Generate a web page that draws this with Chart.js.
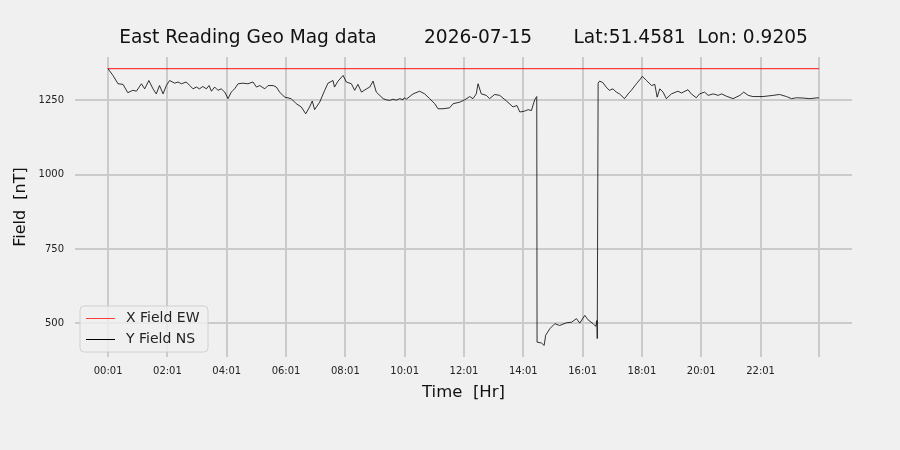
<!DOCTYPE html>
<html lang="en">
<head>
    <meta charset="UTF-8">
    <title>East Reading Geo Mag data</title>
    <script src="https://cdn.jsdelivr.net/npm/chart.js@4.4.0/dist/chart.umd.min.js"></script>
    <style>
        html, body { margin: 0; padding: 0; background: #f0f0f0; }
        #wrap { width: 900px; height: 450px; }
    </style>
</head>
<body>
<div id="wrap"><canvas id="magchart" width="900" height="450"></canvas></div>
<script>
// time of each reading, hours after midnight
const hours = [0.01, 0.18, 0.35, 0.52, 0.68, 0.85, 0.97, 1.14, 1.25, 1.39, 1.53, 1.64, 1.75, 1.87, 1.98, 2.09, 2.26, 2.37,
    2.49, 2.65, 2.77, 2.88, 2.99, 3.10, 3.21, 3.33, 3.42, 3.50, 3.61, 3.72, 3.83, 3.95, 4.06, 4.17, 4.28, 4.40, 4.56, 4.73,
    4.90, 5.02, 5.13, 5.30, 5.41, 5.58, 5.69, 5.80, 5.97, 6.19, 6.36, 6.53, 6.68,
    6.81, 6.90, 6.98, 7.15, 7.32, 7.43, 7.60, 7.65, 7.77, 7.94, 8.05, 8.22, 8.33, 8.44, 8.56, 8.73, 8.84, 8.95, 9.06, 9.29,
    9.40, 9.51, 9.62, 9.74, 9.85, 9.96, 10.00, 10.07, 10.30, 10.52, 10.69, 10.86, 11.03, 11.14, 11.31, 11.53, 11.65, 11.87,
    12.04, 12.21, 12.32, 12.43, 12.49, 12.60, 12.77, 12.88, 13.05, 13.22, 13.45, 13.67, 13.80, 13.90, 14.06, 14.18, 14.29,
    14.40, 14.47, 14.48, 14.63, 14.72, 14.77, 14.91, 15.08, 15.24, 15.47, 15.64, 15.81, 15.92, 16.09, 16.20, 16.37, 16.46,
    16.50, 16.51, 16.54, 16.59, 16.70, 16.81, 16.92, 17.04, 17.15, 17.26, 17.43, 17.55, 17.66, 17.83, 17.94, 18.03, 18.17,
    18.34, 18.45, 18.53, 18.62, 18.73, 18.84, 19.01, 19.23, 19.35, 19.57, 19.68, 19.85, 19.96, 20.13, 20.25, 20.42, 20.59,
    20.70, 20.87, 21.09, 21.32, 21.45, 21.60, 21.76, 22.10, 22.44, 22.66, 22.89, 23.06, 23.23, 23.45, 23.68, 23.95, 23.99];

// Y Field NS, nT
const yFieldNS = [1357, 1334, 1306, 1304, 1276, 1284, 1281, 1306, 1289, 1317, 1289, 1272, 1300, 1272, 1300, 1317, 1308, 1312,
    1306, 1312, 1300, 1289, 1295, 1289, 1297, 1289, 1300, 1281, 1295, 1284, 1289, 1278, 1256, 1278, 1289, 1306, 1308, 1306,
    1312, 1295, 1300, 1289, 1300, 1300, 1295, 1278, 1261, 1256, 1239, 1228, 1205,
    1228, 1248, 1219, 1244, 1284, 1308, 1317, 1295, 1315, 1334, 1312, 1306, 1284, 1304, 1278, 1289, 1295, 1315, 1278, 1256,
    1252, 1250, 1254, 1251, 1256, 1252, 1259, 1254, 1272, 1281, 1272, 1256, 1239, 1222, 1222, 1225, 1239, 1244,
    1252, 1263, 1256, 1272, 1306, 1272, 1267, 1256, 1270, 1267, 1248, 1228, 1233, 1211, 1214, 1219, 1216,
    1252, 1263, 437, 434, 426, 460, 482, 499, 493, 502, 504, 516, 501, 527, 512, 499, 490,
    510, 449, 1308, 1315, 1310, 1295, 1284, 1289, 1278, 1272, 1256, 1272, 1284, 1306, 1319, 1331, 1317,
    1300, 1304, 1261, 1289, 1278, 1256, 1272, 1281, 1275, 1286, 1272, 1259, 1272, 1278, 1267, 1272, 1267,
    1272, 1264, 1256, 1267, 1278, 1267, 1263, 1263, 1267, 1270, 1263, 1256, 1259, 1258, 1256, 1259, 1258];

// X Field EW, nT (flat)
const xFieldHours = [0.01, 23.99];
const xFieldEW = [1357, 1357];

const tickHours = [0.0167, 2.0167, 4.0167, 6.0167, 8.0167, 10.0167, 12.0167, 14.0167, 16.0167, 18.0167, 20.0167, 22.0167, 24];
const tickLabels = ['00:01', '02:01', '04:01', '06:01', '08:01', '10:01', '12:01', '14:01', '16:01', '18:01', '20:01', '22:01', ''];
const fieldTicks = [500, 750, 1000, 1250];

const seriesNames = ['X Field EW', 'Y Field NS'];
const seriesColors = ['rgba(255, 0, 0, 0.75)', '#000000'];
const seriesWidths = [1.2, 0.8];

const titleText = 'East Reading Geo Mag data        2026-07-15       Lat:51.4581  Lon: 0.9205';
const font = 'DejaVu Sans';

// legend drawn inside the plot, bottom left, like matplotlib's
const innerLegend = {
    id: 'innerLegend',
    afterDraw(chart) {
        const ctx = chart.ctx;
        const area = chart.chartArea;
        const x0 = area.left + 5, y0 = area.bottom - 51, w = 128, h = 46;
        ctx.save();
        ctx.beginPath();
        ctx.roundRect(x0, y0, w, h, 4);
        ctx.fillStyle = 'rgba(240, 240, 240, 0.8)';
        ctx.fill();
        ctx.strokeStyle = '#d0d0d0';
        ctx.lineWidth = 1;
        ctx.stroke();
        ctx.font = '14px "' + font + '"';
        ctx.textBaseline = 'middle';
        seriesNames.forEach((name, i) => {
            const yy = y0 + 12.5 + i * 21;
            ctx.beginPath();
            ctx.moveTo(x0 + 6, yy);
            ctx.lineTo(x0 + 35, yy);
            ctx.strokeStyle = seriesColors[i];
            ctx.lineWidth = 1;
            ctx.stroke();
            ctx.fillStyle = '#222';
            ctx.fillText(name, x0 + 46, yy);
        });
        ctx.restore();
    }
};

new Chart(document.getElementById('magchart').getContext('2d'), {
    type: 'line',
    data: {
        datasets: [{
            label: seriesNames[0],
            data: xFieldHours.map((h, i) => ({ x: h, y: xFieldEW[i] })),
            borderColor: seriesColors[0],
            borderWidth: seriesWidths[0],
            pointRadius: 0,
            order: 1
        }, {
            label: seriesNames[1],
            data: hours.map((h, i) => ({ x: h, y: yFieldNS[i] })),
            borderColor: seriesColors[1],
            borderWidth: seriesWidths[1],
            pointRadius: 0,
            order: 0
        }]
    },
    options: {
        responsive: false,
        animation: false,
        layout: { padding: { left: 0, right: 48, top: 0, bottom: 0 } },
        plugins: {
            legend: { display: false },
            tooltip: { enabled: false },
            title: {
                display: true,
                text: titleText,
                fullSize: false,
                color: '#111',
                font: { family: font, size: 18.6, weight: 'normal' },
                padding: { top: 27, bottom: 7.7 }
            }
        },
        scales: {
            x: {
                type: 'linear',
                min: -1.1,
                max: 25.1,
                afterBuildTicks: axis => { axis.ticks = tickHours.map(v => ({ value: v })); },
                afterFit: axis => { axis.height = 93; },
                border: { display: false },
                grid: { color: '#cbcbcb', lineWidth: 2, drawTicks: false },
                ticks: {
                    color: '#222',
                    font: { family: font, size: 10 },
                    padding: 8,
                    maxRotation: 0,
                    autoSkip: false,
                    callback: (v, i) => tickLabels[i]
                },
                title: {
                    display: true,
                    text: 'Time  [Hr]',
                    color: '#111',
                    font: { family: font, size: 16.5 },
                    padding: { top: 0, bottom: 47 }
                }
            },
            y: {
                min: 387,
                max: 1396,
                afterBuildTicks: axis => { axis.ticks = fieldTicks.map(v => ({ value: v })); },
                afterFit: axis => { axis.width = 75; },
                border: { display: false },
                grid: { color: '#cbcbcb', lineWidth: 2, drawTicks: false },
                ticks: {
                    color: '#222',
                    font: { family: font, size: 10 },
                    padding: 11,
                    callback: v => String(v)
                },
                title: {
                    display: true,
                    text: 'Field  [nT]',
                    color: '#111',
                    font: { family: font, size: 16 },
                    padding: { top: 11, bottom: 0 }
                }
            }
        }
    },
    plugins: [innerLegend]
});
</script>
</body>
</html>
